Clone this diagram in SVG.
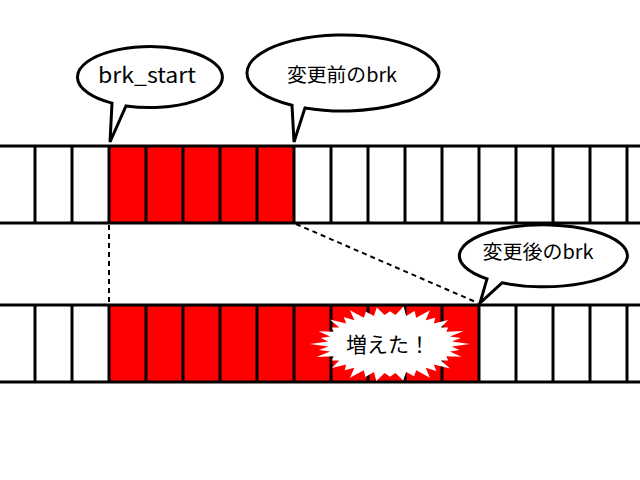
<svg xmlns="http://www.w3.org/2000/svg" width="640" height="480" viewBox="0 0 640 480">
<style>
.row{fill:#fff;stroke:none}
.red{fill:#ff0000;stroke:none}
.hl{stroke:#000;stroke-width:3}
.vl{stroke:#000;stroke-width:3}
.dash{stroke:#000;stroke-width:2;stroke-dasharray:5 4;fill:none}
.bubble{fill:#fff;stroke:#000;stroke-width:3;stroke-linejoin:miter}
.t{font-family:"Noto Sans CJK JP","Noto Sans",sans-serif;fill:#000;text-anchor:middle}
</style>
<rect width="640" height="480" fill="#fff"/>
<g id="memory-before">
  <rect class="red" x="109" y="146" width="185" height="77"/>
  <line class="hl" x1="0" y1="146" x2="640" y2="146"/>
  <line class="hl" x1="0" y1="223" x2="640" y2="223"/>
  <g class="vl">
    <line x1="35" y1="146" x2="35" y2="223"/><line x1="72" y1="146" x2="72" y2="223"/>
    <line x1="109" y1="146" x2="109" y2="223"/><line x1="146" y1="146" x2="146" y2="223"/>
    <line x1="183" y1="146" x2="183" y2="223"/><line x1="220" y1="146" x2="220" y2="223"/>
    <line x1="257" y1="146" x2="257" y2="223"/><line x1="294" y1="146" x2="294" y2="223"/>
    <line x1="331" y1="146" x2="331" y2="223"/><line x1="368" y1="146" x2="368" y2="223"/>
    <line x1="405" y1="146" x2="405" y2="223"/><line x1="442" y1="146" x2="442" y2="223"/>
    <line x1="479" y1="146" x2="479" y2="223"/><line x1="516" y1="146" x2="516" y2="223"/>
    <line x1="553" y1="146" x2="553" y2="223"/><line x1="590" y1="146" x2="590" y2="223"/>
    <line x1="627" y1="146" x2="627" y2="223"/>
  </g>
</g>
<g id="memory-after">
  <rect class="red" x="109" y="305" width="370" height="77"/>
  <line class="hl" x1="0" y1="305" x2="640" y2="305"/>
  <line class="hl" x1="0" y1="382" x2="640" y2="382"/>
  <g class="vl">
    <line x1="35" y1="305" x2="35" y2="382"/><line x1="72" y1="305" x2="72" y2="382"/>
    <line x1="109" y1="305" x2="109" y2="382"/><line x1="146" y1="305" x2="146" y2="382"/>
    <line x1="183" y1="305" x2="183" y2="382"/><line x1="220" y1="305" x2="220" y2="382"/>
    <line x1="257" y1="305" x2="257" y2="382"/><line x1="294" y1="305" x2="294" y2="382"/>
    <line x1="331" y1="305" x2="331" y2="382"/><line x1="368" y1="305" x2="368" y2="382"/>
    <line x1="405" y1="305" x2="405" y2="382"/><line x1="442" y1="305" x2="442" y2="382"/>
    <line x1="479" y1="305" x2="479" y2="382"/><line x1="516" y1="305" x2="516" y2="382"/>
    <line x1="553" y1="305" x2="553" y2="382"/><line x1="590" y1="305" x2="590" y2="382"/>
    <line x1="627" y1="305" x2="627" y2="382"/>
  </g>
</g>
<g id="connectors">
  <line class="dash" x1="109" y1="225" x2="109" y2="303"/>
  <line class="dash" x1="296" y1="224" x2="478" y2="303"/>
</g>
<g id="burst">
  <polygon fill="#fff" points="470,344 451.8,346.5 459.3,350 449.9,351.5 461.4,356.7 446.2,356.3 448.2,360.4 440.8,360.6 450.1,368.6 433.8,364.5 436.3,370.9 425.6,367.8 430,377.8 416.2,370.3 414.1,376.2 406.1,372 403.2,380.5 395.4,372.9 390,376.8 384.6,372.9 376.4,381 373.9,372 365.4,377 363.8,370.3 350,377.8 354.4,367.8 344.7,370.3 346.2,364.5 331.8,367.9 339.2,360.6 331.8,360.4 333.8,356.3 316.3,357.1 330.1,351.5 319.1,350.1 328.2,346.5 310,344 328.2,341.5 320.7,338 330.1,336.5 318.6,331.3 333.8,331.7 331.8,327.6 339.2,327.4 329.9,319.4 346.2,323.5 343.7,317.1 354.4,320.2 350,310.2 363.8,317.7 365.9,311.8 373.9,316 376.8,307.5 384.6,315.1 390,311.2 395.4,315.1 403.6,306.4 406.1,316 414.6,311 416.2,317.7 430,310.2 425.6,320.2 435.3,317.7 433.8,323.5 448.2,320.1 440.8,327.4 448.2,327.6 446.2,331.7 463.7,330.9 449.9,336.5 460.9,337.9 451.8,341.5"/>
  <text class="t" x="388" y="352" font-size="21">増えた！</text>
</g>
<g id="callout-brk-start">
  <path class="bubble" d="M126,105.9 A72.5,30.5 0 1 0 112,103.1 L110,142 Z"/>
  <text class="t" x="147" y="83" font-size="21" textLength="98" lengthAdjust="spacingAndGlyphs">brk_start</text>
</g>
<g id="callout-brk-before">
  <path class="bubble" d="M305,107.9 A96,38 0 1 0 292,105.2 L294,142 Z"/>
  <text class="t" x="342" y="82" font-size="19" textLength="110" lengthAdjust="spacingAndGlyphs">変更前のbrk</text>
</g>
<g id="callout-brk-after">
  <path class="bubble" d="M502,282.8 A84,31 0 1 0 487,278.8 L480,303 Z"/>
  <text class="t" x="538" y="259" font-size="19" textLength="111" lengthAdjust="spacingAndGlyphs">変更後のbrk</text>
</g>
</svg>
